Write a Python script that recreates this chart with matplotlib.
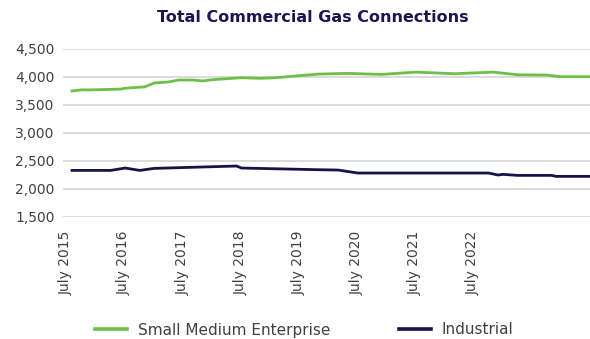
import matplotlib
matplotlib.use("Agg")
import matplotlib.pyplot as plt
import matplotlib.transforms as mtransforms
from matplotlib.ticker import FuncFormatter

# Months counted from July 2015, with connection counts at each change of slope
sme_months = [0, 2, 4, 10, 11, 15, 17, 20, 22, 25, 27, 29, 35, 39, 42, 51,
              57, 64, 71, 79, 87, 92, 98, 101, 107]
sme_values = [3745, 3765, 3765, 3778, 3795, 3818, 3888, 3906, 3941, 3941, 3924,
              3947, 3982, 3971, 3982, 4047, 4059, 4041, 4082, 4053, 4082, 4035,
              4029, 4000, 4000]

ind_months = [0, 8, 11, 14, 17, 34, 35, 51, 55, 59, 86, 88, 89, 92, 99, 100, 107]
ind_values = [2327, 2327, 2369, 2327, 2363, 2405, 2369, 2339, 2333, 2280, 2280,
              2244, 2256, 2238, 2238, 2220, 2220]

tick_months = [0, 12, 24, 36, 48, 60, 72, 84]
tick_labels = ["July 2015", "July 2016", "July 2017", "July 2018",
               "July 2019", "July 2020", "July 2021", "July 2022"]

series_names = ["Small Medium Enterprise", "Industrial"]

GREEN = "#6cc04a"
NAVY = "#16124a"
TEXT = "#404040"
GRID = "#d9d9d9"

fig = plt.figure(figsize=(5.9, 3.39), dpi=100)
ax = fig.add_axes([63 / 590, 1 - 216.7 / 339, 1 - 63 / 590, (216.7 - 48.7) / 339])

ax.plot(sme_months, sme_values, color=GREEN, lw=2.0, label=series_names[0],
        solid_joinstyle="round")
ax.plot(ind_months, ind_values, color=NAVY, lw=2.0, label=series_names[1],
        solid_joinstyle="round")

ax.set_ylim(1500, 4500)
ax.set_yticks(range(1500, 4501, 500))
ax.yaxis.set_major_formatter(FuncFormatter(lambda v, p: f"{int(v):,}"))
ax.set_xlim(-1.86, 107)
ax.set_xticks(tick_months)
ax.set_xticklabels(tick_labels, rotation=90)

ax.grid(axis="y", color=GRID, lw=1.3)
ax.set_axisbelow(True)
for s in ax.spines.values():
    s.set_visible(False)
ax.tick_params(axis="both", length=0, labelcolor=TEXT, labelsize=10)
ax.tick_params(axis="y", pad=6)
ax.tick_params(axis="x", pad=10)

shift = mtransforms.ScaledTranslation(-6 / 100, 0, fig.dpi_scale_trans)
for lab in ax.get_xticklabels():
    lab.set_transform(lab.get_transform() + shift)

fig.text(313 / 590, 1 - 18 / 339, "Total Commercial Gas Connections",
         ha="center", va="center", fontsize=11.5, fontweight="bold", color="#1d1551")

leg = fig.legend(loc="center", bbox_to_anchor=(304 / 590, 1 - 330 / 339), ncol=2,
                 frameon=False, fontsize=11, handlelength=2.1, handletextpad=0.7,
                 columnspacing=4.5)
for t in leg.get_texts():
    t.set_color(TEXT)
for h in leg.legend_handles:
    h.set_linewidth(2.6)

fig.savefig("out.png", dpi=100)
